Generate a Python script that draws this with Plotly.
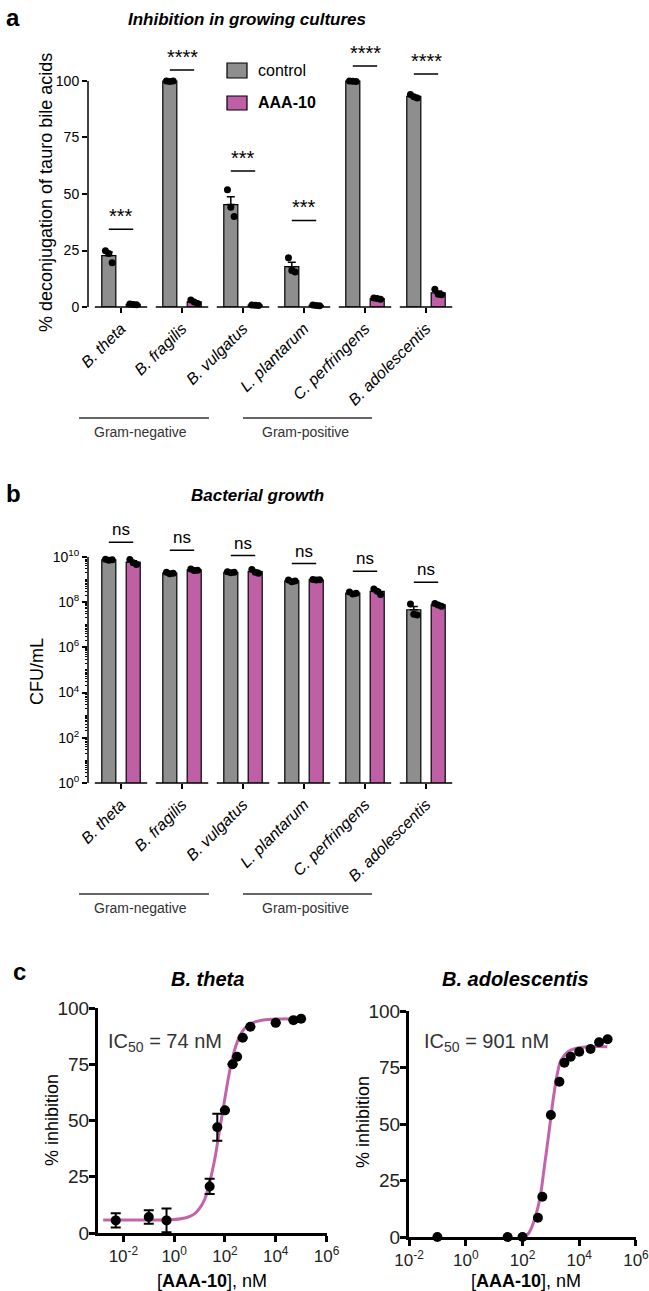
import numpy as np
import plotly.graph_objects as go

# ---------------- data ----------------
SPECIES = ["B. theta", "B. fragilis", "B. vulgatus", "L. plantarum", "C. perfringens", "B. adolescentis"]
GROUPS = ["Gram-negative", "Gram-positive"]
SERIES = ["control", "AAA-10"]

# Panel a: % deconjugation of tauro bile acids (3 replicates per bar)
DECONJ_CONTROL = [[24.9, 23.7, 19.6], [100.0, 99.8, 100.0], [51.9, 44.1, 40.0],
                  [21.8, 16.2, 15.5], [100.0, 99.9, 99.8], [94.0, 93.0, 92.5]]
DECONJ_AAA10 = [[1.3, 1.1, 1.0], [3.1, 2.2, 1.6], [0.9, 0.8, 0.7],
                [0.9, 0.7, 0.6], [4.0, 3.8, 3.4], [7.8, 5.6, 5.4]]
DECONJ_SIG = ["***", "****", "***", "***", "****", "****"]

# Panel b: CFU/mL (3 replicates per bar)
CFU_CONTROL = [[7.9e9, 7.2e9, 7.4e9], [2.1e9, 1.8e9, 1.9e9], [2.2e9, 2.0e9, 2.1e9],
               [9.5e8, 8.0e8, 8.5e8], [2.8e8, 2.3e8, 2.5e8], [8.2e7, 2.9e7, 2.7e7]]
CFU_AAA10 = [[7.6e9, 5.5e9, 4.6e9], [2.9e9, 2.5e9, 2.6e9], [2.8e9, 2.1e9, 1.9e9],
             [1.0e9, 9.5e8, 9.8e8], [3.8e8, 3.0e8, 2.2e8], [8.8e7, 7.5e7, 6.5e7]]
CFU_SIG = ["ns", "ns", "ns", "ns", "ns", "ns"]

# Panel c: dose response, B. theta
THETA_CONC = [0.005, 0.1, 0.5, 25, 50, 100, 200, 300, 500, 1000, 10000, 50000, 100000]
THETA_INHIB = [5.6, 7.1, 5.6, 20.7, 47.0, 54.5, 75.0, 78.3, 86.8, 91.7, 93.4, 94.6, 95.2]
THETA_ERR = [3.2, 3.0, 5.3, 3.4, 6.0, 0, 0, 0, 0, 0, 0, 0, 0]
THETA_FIT_CONC = [0.0016, 0.032, 0.32, 1, 3.2, 6.3, 10, 16, 25, 40, 63, 100, 160, 250, 400,
                  630, 1000, 3200, 10000, 90000]
THETA_FIT_INHIB = [5.8, 5.8, 5.8, 6.0, 6.9, 8.5, 10.9, 15.0, 22.5, 33.0, 46.5, 60.0, 73.0,
                   82.0, 88.0, 91.2, 93.0, 94.7, 95.1, 95.2]
THETA_IC50 = "74 nM"

# Panel c: dose response, B. adolescentis
ADOL_CONC = [0.1, 30, 100, 350, 500, 1000, 2000, 3000, 5000, 10000, 25000, 50000, 100000]
ADOL_INHIB = [0, 0, 0, 8.5, 17.8, 54.0, 68.7, 77.1, 79.8, 82.0, 83.2, 86.2, 87.5]
ADOL_FIT_CONC = [100, 160, 230, 400, 590, 850, 1200, 1700, 2300, 4000, 7800, 22000, 98000]
ADOL_FIT_INHIB = [0, 1.5, 5.5, 16.4, 31.1, 45.9, 60.6, 72.4, 78.3, 82.0, 83.5, 84.2, 84.2]
ADOL_IC50 = "901 nM"

# ---------------- style ----------------
W, H = 649, 1291
FONT = "Liberation Sans, Arial, Helvetica, sans-serif"
GRAY = "#8E8E8E"
PINK = "#BF60A7"
CURVE = "#C462AC"
TXT = "#222222"


def fx(p):
    return p / W


def fy(p):
    return 1 - p / H


fig = go.Figure()
idx = np.arange(len(SPECIES))
OFF = 0.2
BAR_W = 0.23
JIT = np.array([-0.055, 0.0, 0.055])


def add_bars(xa, ya, ctrl, aaa):
    for vals, off, color in [(ctrl, -OFF, GRAY), (aaa, OFF, PINK)]:
        arr = np.array(vals, dtype=float)
        mean = arr.mean(axis=1)
        sem = arr.std(axis=1, ddof=1) / np.sqrt(arr.shape[1])
        fig.add_trace(go.Bar(
            x=idx + off, y=mean, width=BAR_W,
            marker=dict(color=color, line=dict(color="black", width=1.2)),
            error_y=dict(type="data", array=sem, arrayminus=np.zeros_like(sem), symmetric=False,
                         color="black", thickness=1.5, width=4),
            xaxis=xa, yaxis=ya, showlegend=False, hoverinfo="skip"))
        fig.add_trace(go.Scatter(
            x=(idx[:, None] + off + JIT[None, :]).ravel(), y=arr.ravel(), mode="markers",
            marker=dict(color="black", size=7), xaxis=xa, yaxis=ya, showlegend=False,
            cliponaxis=False))


add_bars("x", "y", DECONJ_CONTROL, DECONJ_AAA10)
add_bars("x2", "y2", CFU_CONTROL, CFU_AAA10)

# panel c traces
fig.add_trace(go.Scatter(x=THETA_FIT_CONC, y=THETA_FIT_INHIB, mode="lines",
                         line=dict(color=CURVE, width=3, shape="spline", smoothing=1.0),
                         xaxis="x3", yaxis="y3", showlegend=False))
fig.add_trace(go.Scatter(x=THETA_CONC, y=THETA_INHIB, mode="markers",
                         marker=dict(color="black", size=10),
                         error_y=dict(type="data", array=THETA_ERR, color="black", thickness=2, width=5),
                         xaxis="x3", yaxis="y3", showlegend=False, cliponaxis=False))
fig.add_trace(go.Scatter(x=ADOL_FIT_CONC, y=ADOL_FIT_INHIB, mode="lines",
                         line=dict(color=CURVE, width=3, shape="spline", smoothing=1.0),
                         xaxis="x4", yaxis="y4", showlegend=False))
fig.add_trace(go.Scatter(x=ADOL_CONC, y=ADOL_INHIB, mode="markers",
                         marker=dict(color="black", size=10),
                         xaxis="x4", yaxis="y4", showlegend=False, cliponaxis=False))

# ---------------- axes ----------------
tick_it = ["<i>%s</i>" % s for s in SPECIES]
base_x = dict(range=[-0.541, 5.5], tickvals=list(idx), ticktext=tick_it, tickangle=-45,
              ticks="outside", ticklen=5, tickwidth=1.5, tickcolor="black",
              showline=False, showgrid=False, zeroline=False,
              tickfont=dict(size=16, family=FONT, color="black"), automargin=False)
minor_vals = [k * 10.0 ** d for d in range(0, 10) for k in range(2, 10)] + [10.0 ** d for d in range(1, 10, 2)]
fig.update_layout(
    xaxis=dict(domain=[fx(88), fx(456.5)], anchor="y", **base_x),
    yaxis=dict(domain=[fy(307), fy(40.3)], anchor="x", range=[0, 118],
               tickvals=[0, 25, 50, 75, 100], ticks="outside", ticklen=5, tickwidth=1.5,
               tickcolor="black", showline=False, showgrid=False, zeroline=False,
               tickfont=dict(size=14, family=FONT, color="black"), automargin=False),
    xaxis2=dict(domain=[fx(88), fx(456.5)], anchor="y2", **base_x),
    yaxis2=dict(domain=[fy(783), fy(523)], anchor="x2", type="log", range=[0, 11.5],
                tickvals=[1, 1e2, 1e4, 1e6, 1e8, 1e10],
                ticktext=["10<sup>0</sup>", "10<sup>2</sup>", "10<sup>4</sup>", "10<sup>6</sup>",
                          "10<sup>8</sup>", "10<sup>10</sup>"],
                ticks="outside", ticklen=5, tickwidth=1.5, tickcolor="black",
                minor=dict(ticks="outside", ticklen=2.5, tickwidth=1, tickcolor="black",
                           tickmode="array", tickvals=minor_vals, showgrid=False),
                showline=False, showgrid=False, zeroline=False,
                tickfont=dict(size=14, family=FONT, color="black"), automargin=False),
)

c_x = dict(type="log", tickvals=[1e-2, 1, 1e2, 1e4, 1e6],
           ticktext=["10<sup>-2</sup>", "10<sup>0</sup>", "10<sup>2</sup>", "10<sup>4</sup>", "10<sup>6</sup>"],
           ticks="outside", ticklen=6, tickwidth=3, tickcolor="black", showline=True, linewidth=3,
           linecolor="black", showgrid=False, zeroline=False, ticklabeloverflow="allow",
           tickfont=dict(size=17, family=FONT, color=TXT), automargin=False)
c_y = dict(range=[0, 100], tickvals=[0, 25, 50, 75, 100], ticks="outside", ticklen=6, tickwidth=3,
           tickcolor="black", showline=True, linewidth=3, linecolor="black", showgrid=False,
           zeroline=False, ticklabelstandoff=-4,
           tickfont=dict(size=19, family=FONT, color=TXT), automargin=False)
fig.update_layout(
    xaxis3=dict(domain=[fx(98), fx(326.5)], anchor="y3", range=[-3, 6], **c_x),
    yaxis3=dict(domain=[fy(1233), fy(1008)], anchor="x3", **c_y),
    xaxis4=dict(domain=[fx(409), fx(636)], anchor="y4", range=[-2, 6.001], **c_x),
    yaxis4=dict(domain=[fy(1237), fy(1011)], anchor="x4", **c_y),
)

shapes = []
# y axis lines panels a, b
shapes.append(dict(type="line", xref="paper", yref="y", x0=fx(88), x1=fx(88), y0=0, y1=100,
                   line=dict(color="black", width=1.5)))
shapes.append(dict(type="line", xref="paper", yref="y2", x0=fx(88), x1=fx(88), y0=1, y1=1e10,
                   line=dict(color="black", width=1.5)))
# segmented x axes
for i in idx:
    for xa, ypix in [("x", 307), ("x2", 783)]:
        shapes.append(dict(type="line", xref=xa, yref="paper", x0=i - 0.43, x1=i + 0.43,
                           y0=fy(ypix), y1=fy(ypix), line=dict(color="black", width=1.5)))

# significance
SIG_Y_A = [34.4, 104.9, 60.2, 38.3, 106.6, 103.1]
SIG_Y_B = [4.4e10, 1.95e10, 1.15e10, 5.1e9, 2.35e9, 7.6e8]
annotations = []
for i in idx:
    shapes.append(dict(type="line", xref="x", yref="y", x0=i - OFF, x1=i + OFF,
                       y0=SIG_Y_A[i], y1=SIG_Y_A[i], line=dict(color="black", width=1.5)))
    annotations.append(dict(x=i, y=SIG_Y_A[i], xref="x", yref="y", text=DECONJ_SIG[i],
                            showarrow=False, yanchor="bottom", yshift=0,
                            font=dict(size=20, family=FONT, color="black")))
    shapes.append(dict(type="line", xref="x2", yref="y2", x0=i - OFF, x1=i + OFF,
                       y0=SIG_Y_B[i], y1=SIG_Y_B[i], line=dict(color="black", width=1.5)))
    annotations.append(dict(x=i, y=float(np.log10(SIG_Y_B[i])), xref="x2", yref="y2", text=CFU_SIG[i],
                            showarrow=False, yanchor="bottom", yshift=1,
                            font=dict(size=17, family=FONT, color="black")))

# group lines
for ypix in (418, 894):
    shapes.append(dict(type="line", xref="paper", yref="paper", x0=fx(79), x1=fx(209),
                       y0=fy(ypix), y1=fy(ypix), line=dict(color="#333333", width=1.5)))
    shapes.append(dict(type="line", xref="paper", yref="paper", x0=fx(243), x1=fx(372),
                       y0=fy(ypix), y1=fy(ypix), line=dict(color="#333333", width=1.5)))

# legend boxes
shapes.append(dict(type="rect", xref="paper", yref="paper", x0=fx(227), x1=fx(247), y0=fy(78), y1=fy(63),
                   fillcolor=GRAY, line=dict(color="black", width=1.2)))
shapes.append(dict(type="rect", xref="paper", yref="paper", x0=fx(227), x1=fx(247), y0=fy(110), y1=fy(96),
                   fillcolor=PINK, line=dict(color="black", width=1.2)))


def ann(x, y, text, size, color="black", xanchor="center", yanchor="middle", angle=0):
    annotations.append(dict(x=fx(x), y=fy(y), xref="paper", yref="paper", text=text, showarrow=False,
                            font=dict(size=size, color=color, family=FONT), xanchor=xanchor,
                            yanchor=yanchor, textangle=angle))


ann(13, 17, "<b>a</b>", 24)
ann(247, 20, "<b><i>Inhibition in growing cultures</i></b>", 17)
ann(46, 193, "% deconjugation of tauro bile acids", 18, angle=-90)
ann(256, 71, SERIES[0], 16, xanchor="left")
ann(256, 103, "<b>%s</b>" % SERIES[1], 16, xanchor="left")
ann(140, 432, GROUPS[0], 14, color="#333333")
ann(305, 432, GROUPS[1], 14, color="#333333")

ann(13, 493, "<b>b</b>", 24)
ann(257, 496, "<b><i>Bacterial growth</i></b>", 17)
ann(37, 672, "CFU/mL", 18, angle=-90)
ann(140, 908, GROUPS[0], 14, color="#333333")
ann(305, 908, GROUPS[1], 14, color="#333333")

ann(19, 972, "<b>c</b>", 24)
ann(207, 979, "<b><i>B. theta</i></b>", 20)
ann(515, 979, "<b><i>B. adolescentis</i></b>", 20)
ann(106, 1042, "IC<sub>50</sub> = " + THETA_IC50, 20, color="#333333", xanchor="left")
ann(422, 1042, "IC<sub>50</sub> = " + ADOL_IC50, 20, color="#333333", xanchor="left")
ann(52, 1120, "% inhibition", 18, angle=-90)
ann(363, 1122, "% inhibition", 18, angle=-90)
ann(212, 1281, "[<b>AAA-10</b>], nM", 18)
ann(526, 1281, "[<b>AAA-10</b>], nM", 18)

fig.update_layout(
    width=W, height=H, margin=dict(l=0, r=0, t=0, b=0),
    paper_bgcolor="white", plot_bgcolor="white",
    barmode="overlay", showlegend=False,
    font=dict(family=FONT, color="black"),
    shapes=shapes, annotations=annotations,
)

fig.write_html("out.html", config={"displayModeBar": False},
               post_script="document.body.style.margin='0px';document.body.style.overflow='hidden';")
